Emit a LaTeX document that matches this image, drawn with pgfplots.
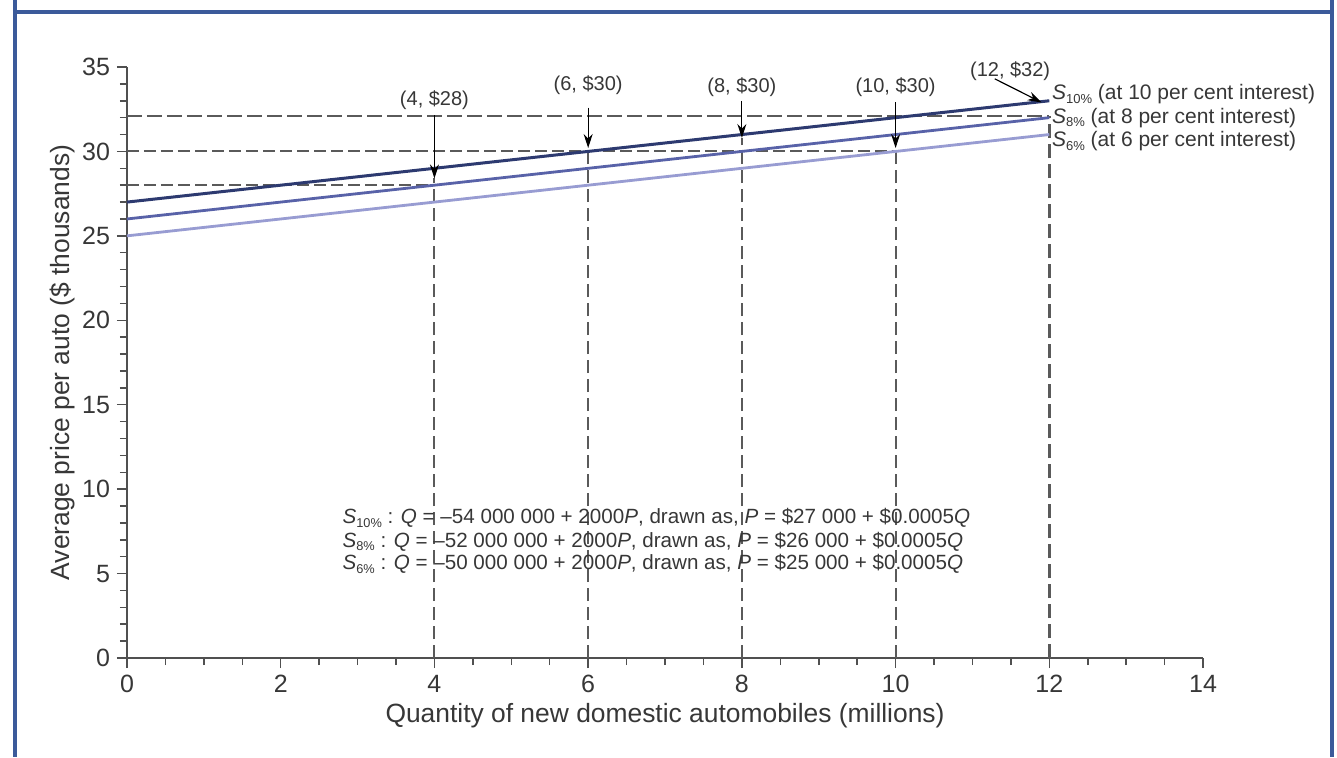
\documentclass[border=0pt]{standalone}
\usepackage{pgfplots}
\pgfplotsset{compat=1.18}
\usepackage{fontspec}
\setmainfont{Liberation Sans}
\usetikzlibrary{arrows.meta}
\definecolor{frameblue}{RGB}{59,90,154}
\definecolor{sten}{RGB}{45,58,112}
\definecolor{seight}{RGB}{88,98,168}
\definecolor{ssix}{RGB}{152,156,210}
\definecolor{dashgray}{RGB}{90,90,90}
\definecolor{axisgray}{RGB}{80,80,80}
\definecolor{txtgray}{RGB}{55,55,55}
\newcommand{\Sub}[1]{\textit{S}\raisebox{-0.35ex}{\scalebox{0.62}{#1\%}}}
\begin{document}
\begin{tikzpicture}
\useasboundingbox (-63.5pt,-49.5pt) rectangle (605pt,329pt);
\fill[white] (-63.5pt,-49.5pt) rectangle (605pt,329pt);
\draw[frameblue, line width=2pt] (-56pt,329pt) -- (-56pt,-49.5pt);
\draw[frameblue, line width=2pt] (602.5pt,329pt) -- (602.5pt,-49.5pt);
\draw[frameblue, line width=2pt] (-57pt,323pt) -- (603.5pt,323pt);
\begin{axis}[
  at={(0pt,0pt)}, anchor=south west,
  x=38.43pt, y=8.443pt,
  xmin=0, xmax=14, ymin=0, ymax=35,
  axis x line=bottom, axis y line=left,
  axis line style={-, draw=axisgray, line width=0.75pt},
  xtick={0,2,...,14}, ytick={0,5,...,35},
  minor x tick num=3, minor y tick num=4,
  tick align=outside,
  major tick length=5pt, minor tick length=3.5pt,
  every tick/.style={axisgray, line width=0.75pt},
  /pgf/number format/assume math mode=true,
  ticklabel style={font=\fontsize{12.5}{12.5}\selectfont, text=txtgray},
  xlabel={Quantity of new domestic automobiles (millions)},
  ylabel={Average price per auto (\$ thousands)},
  label style={font=\fontsize{13.2}{13.2}\selectfont, text=txtgray},
  xlabel style={at={(axis description cs:0.5,0)}, anchor=center, yshift=-29pt},
  ylabel style={at={(axis description cs:-0.0604,0.5)}, anchor=center},
  clip=false,
]
% dashed guide lines
\addplot[dashgray, line width=1pt, dash pattern=on 6pt off 2.5pt] coordinates {(0,28) (4,28)};
\addplot[dashgray, line width=1pt, dash pattern=on 6pt off 2.5pt] coordinates {(0,30) (10,30)};
\addplot[dashgray, line width=1pt, dash pattern=on 7.5pt off 2.5pt] coordinates {(0,32.1) (12,32.1)};
\addplot[dashgray, line width=1pt, dash pattern=on 6.5pt off 3pt] coordinates {(4,0) (4,28.4)};
\addplot[dashgray, line width=1pt, dash pattern=on 6.5pt off 3pt] coordinates {(6,0) (6,30.2)};
\addplot[dashgray, line width=1pt, dash pattern=on 6.5pt off 3pt] coordinates {(8,0) (8,30.8)};
\addplot[dashgray, line width=1pt, dash pattern=on 6.5pt off 3pt] coordinates {(10,0) (10,30.2)};
\addplot[dashgray, line width=1.2pt, dash pattern=on 7pt off 3pt] coordinates {(12,0) (12,32.1)};
% supply curves
\addplot[ssix, line width=1.4pt] coordinates {(0,25) (12,31)};
\addplot[seight, line width=1.4pt] coordinates {(0,26) (12,32)};
\addplot[sten, line width=1.5pt] coordinates {(0,27) (12,33)};
% arrows
\addplot[black, line width=0.6pt, -{Stealth[length=7pt,width=4.5pt]}] coordinates {(4,32.15) (4,28.4)};
\addplot[black, line width=0.6pt, -{Stealth[length=7pt,width=4.5pt]}] coordinates {(6,32.6) (6,30.2)};
\addplot[black, line width=0.6pt, -{Stealth[length=7pt,width=4.5pt]}] coordinates {(8,33.0) (8,30.8)};
\addplot[black, line width=0.6pt, -{Stealth[length=7pt,width=4.5pt]}] coordinates {(10,32.9) (10,30.2)};
\addplot[black, line width=0.6pt, -{Stealth[length=7pt,width=4.5pt]}] coordinates {(11.29,34.3) (11.9,32.9)};
% point labels
\begin{scope}[every node/.style={font=\fontsize{10}{10}\selectfont, text=txtgray, inner sep=0pt}]
\node at (axis cs:4,33.05) {(4, \$28)};
\node at (axis cs:6,33.93) {(6, \$30)};
\node at (axis cs:8,33.8) {(8, \$30)};
\node at (axis cs:10,33.8) {(10, \$30)};
\node at (axis cs:11.49,34.75) {(12, \$32)};
\end{scope}
\begin{scope}[every node/.style={font=\fontsize{10.5}{10.5}\selectfont, text=txtgray, inner sep=0pt}]
\node[anchor=west] at (axis cs:12.03,33.4) {\Sub{10} (at 10 per cent interest)};
\node[anchor=west] at (axis cs:12.03,32.0) {\Sub{8} (at 8 per cent interest)};
\node[anchor=west] at (axis cs:12.03,30.6) {\Sub{6} (at 6 per cent interest)};
\end{scope}
\begin{scope}[every node/.style={font=\fontsize{10.3}{10.3}\selectfont, text=txtgray, inner sep=0pt}]
\node[anchor=west] at (axis cs:2.80,8.3) {\Sub{10} : \textit{Q} = –54 000 000 + 2000\textit{P}, drawn as, \textit{P} = \$27 000 + \$0.0005\textit{Q}};
\node[anchor=west] at (axis cs:2.80,6.9) {\Sub{8} : \textit{Q} = –52 000 000 + 2000\textit{P}, drawn as, \textit{P} = \$26 000 + \$0.0005\textit{Q}};
\node[anchor=west] at (axis cs:2.80,5.55) {\Sub{6} : \textit{Q} = –50 000 000 + 2000\textit{P}, drawn as, \textit{P} = \$25 000 + \$0.0005\textit{Q}};
\end{scope}
\end{axis}
\end{tikzpicture}
\end{document}
